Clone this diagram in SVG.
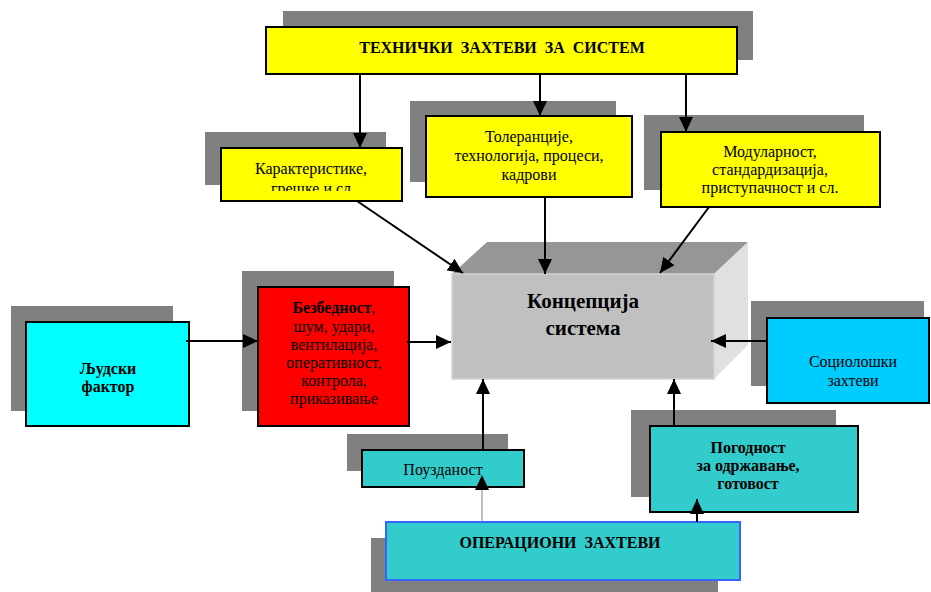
<svg xmlns="http://www.w3.org/2000/svg" width="931" height="592" viewBox="0 0 931 592">
<style>
.sh{fill:#808080}
.bx{stroke:#000;stroke-width:2}
.y{fill:#FFFF00}
.t{font-family:"Liberation Serif","Times New Roman",serif;font-size:16px;fill:#000;text-anchor:middle;white-space:pre}
.b{font-weight:bold}
.big{font-size:21px}
.ln{stroke:#000;stroke-width:2;fill:none}
</style>
<defs>
<marker id="ah" markerUnits="userSpaceOnUse" markerWidth="15" markerHeight="14" refX="15" refY="7" orient="auto">
<path d="M0,0 L15,7 L0,14 z" fill="#000"/>
</marker>
<clipPath id="clipK"><rect x="220" y="148" width="182" height="43"/></clipPath>
</defs>
<rect width="931" height="592" fill="#fff"/>

<g id="tech">
<rect class="sh" x="283" y="11" width="470" height="49"/>
<rect class="bx y" x="266" y="27" width="471" height="47"/>
<text class="t b" x="502" y="53">ТЕХНИЧКИ  ЗАХТЕВИ  ЗА  СИСТЕМ</text>
</g>

<g id="karakteristike">
<rect class="sh" x="205" y="132" width="181" height="53"/>
<rect class="bx y" x="221" y="148" width="181" height="53"/>
<g clip-path="url(#clipK)">
<text class="t" x="311" y="174">Карактеристике,</text>
<text class="t" x="311" y="194">грешке и сл</text>
</g>
</g>

<g id="tolerancije">
<rect class="sh" x="410" y="101" width="206" height="81"/>
<rect class="bx y" x="426" y="116" width="206" height="81"/>
<text class="t" x="529" y="142">Толеранције,</text>
<text class="t" x="529" y="161">технологија, процеси,</text>
<text class="t" x="529" y="180">кадрови</text>
</g>

<g id="modularnost">
<rect class="sh" x="644" y="115" width="220" height="75"/>
<rect class="bx y" x="661" y="132" width="219" height="75"/>
<text class="t" x="770" y="157">Модуларност,</text>
<text class="t" x="770" y="175">стандардизација,</text>
<text class="t" x="770" y="193">приступачност и сл.</text>
</g>

<g id="koncepcija">
<polygon points="452,274 487,242 748,242 714,274" fill="#969696"/>
<polygon points="714,274 748,242 748,345 714,379" fill="#E0E0E0"/>
<rect x="452" y="274" width="262" height="105" fill="#C0C0C0" stroke="#D4D4D4" stroke-width="1.5"/>
<text class="t b big" x="583" y="308">Концепција</text>
<text class="t b big" x="583" y="335">система</text>
</g>

<g id="ljudski">
<rect class="sh" x="11" y="306" width="162" height="105"/>
<rect class="bx" fill="#00FFFF" x="26" y="322" width="163" height="104"/>
<text class="t b" x="108" y="374">Људски</text>
<text class="t b" x="108" y="392">фактор</text>
</g>

<g id="bezbednost">
<rect class="sh" x="242" y="271" width="152" height="140"/>
<rect class="bx" fill="#FF0000" x="258" y="287" width="151" height="139"/>
<text class="t" x="334" y="313"><tspan class="b">Безбедност</tspan>,</text>
<text class="t" x="334" y="332">шум, удари,</text>
<text class="t" x="334" y="350">вентилација,</text>
<text class="t" x="334" y="368">оперативност,</text>
<text class="t" x="334" y="386">контрола,</text>
<text class="t" x="334" y="404">приказивање</text>
</g>

<g id="socioloski">
<rect class="sh" x="751" y="301" width="173" height="85"/>
<rect class="bx" fill="#00CCFF" x="767" y="318" width="162" height="85"/>
<text class="t" x="853" y="367">Социолошки</text>
<text class="t" x="853" y="386">захтеви</text>
</g>

<g id="pouzdanost">
<rect class="sh" x="347" y="434" width="161" height="37"/>
<rect class="bx" fill="#33CCCC" x="362" y="450" width="162" height="37"/>
<text class="t" x="443" y="475">Поузданост</text>
</g>

<g id="pogodnost">
<rect class="sh" x="631" y="410" width="205" height="87"/>
<rect class="bx" fill="#33CCCC" x="650" y="426" width="208" height="86"/>
<text class="t b" x="748" y="453">Погодност</text>
<text class="t b" x="748" y="471">за одржавање,</text>
<text class="t b" x="748" y="489">готовост</text>
</g>

<g id="operacioni">
<rect class="sh" x="371" y="538" width="347" height="54"/>
<rect fill="#33CCCC" stroke="#3366FF" stroke-width="2" x="386" y="522" width="354" height="58"/>
<text class="t b" x="560" y="548">ОПЕРАЦИОНИ  ЗАХТЕВИ</text>
</g>

<g id="connectors">
<line class="ln" x1="360" y1="74" x2="360" y2="148" marker-end="url(#ah)"/>
<line class="ln" x1="540" y1="74" x2="540" y2="116" marker-end="url(#ah)"/>
<line class="ln" x1="686" y1="74" x2="686" y2="132" marker-end="url(#ah)"/>
<line class="ln" x1="357" y1="201" x2="463" y2="273" marker-end="url(#ah)"/>
<line class="ln" x1="545" y1="197" x2="545" y2="274" marker-end="url(#ah)"/>
<line class="ln" x1="709" y1="207" x2="660" y2="273" marker-end="url(#ah)"/>
<line class="ln" x1="186" y1="341" x2="258" y2="341" marker-end="url(#ah)"/>
<line class="ln" x1="407" y1="342" x2="451" y2="342" marker-end="url(#ah)"/>
<line class="ln" x1="767" y1="341" x2="711" y2="341" marker-end="url(#ah)"/>
<line class="ln" x1="483" y1="450" x2="483" y2="379" marker-end="url(#ah)"/>
<line class="ln" x1="674" y1="426" x2="674" y2="379" marker-end="url(#ah)"/>
<line stroke="#808080" stroke-width="1" x1="482" y1="522" x2="482" y2="490"/>
<path d="M475,490 L482,475 L489,490 z" fill="#000"/>
<line class="ln" x1="697" y1="522" x2="697" y2="499" marker-end="url(#ah)"/>
</g>
</svg>
